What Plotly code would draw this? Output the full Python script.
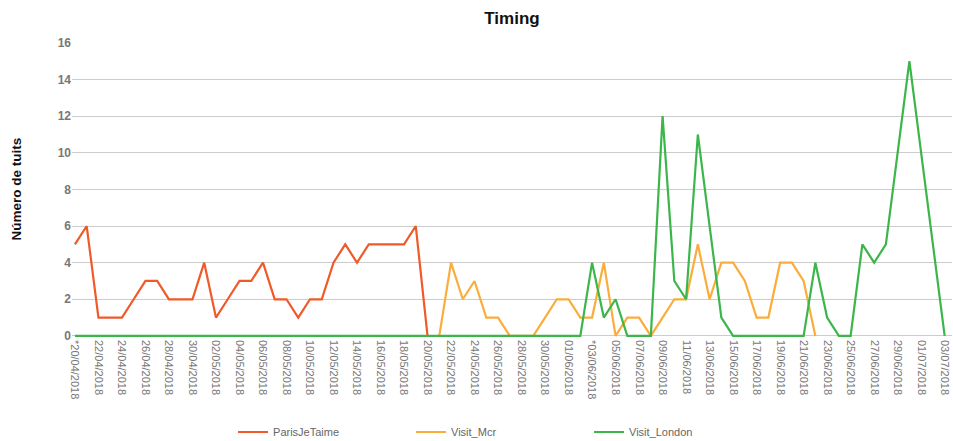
import pandas as pd
import plotly.graph_objects as go

# Categories: one per day, 20/04/2018 .. 03/07/2018
dates = list(pd.date_range("2018-04-20", "2018-07-03", freq="D"))

tick_labels = [
    "*20/04/2018", "22/04/2018", "24/04/2018", "26/04/2018", "28/04/2018",
    "30/04/2018", "02/05/2018", "04/05/2018", "06/05/2018", "08/05/2018",
    "10/05/2018", "12/05/2018", "14/05/2018", "16/05/2018", "18/05/2018",
    "20/05/2018", "22/05/2018", "24/05/2018", "26/05/2018", "28/05/2018",
    "30/05/2018", "01/06/2018", "*03/06/2018", "05/06/2018", "07/06/2018",
    "09/06/2018", "11/06/2018", "13/06/2018", "15/06/2018", "17/06/2018",
    "19/06/2018", "21/06/2018", "23/06/2018", "25/06/2018", "27/06/2018",
    "29/06/2018", "01/07/2018", "03/07/2018",
]
tick_dates = [
    "2018-04-20", "2018-04-22", "2018-04-24", "2018-04-26", "2018-04-28",
    "2018-04-30", "2018-05-02", "2018-05-04", "2018-05-06", "2018-05-08",
    "2018-05-10", "2018-05-12", "2018-05-14", "2018-05-16", "2018-05-18",
    "2018-05-20", "2018-05-22", "2018-05-24", "2018-05-26", "2018-05-28",
    "2018-05-30", "2018-06-01", "2018-06-03", "2018-06-05", "2018-06-07",
    "2018-06-09", "2018-06-11", "2018-06-13", "2018-06-15", "2018-06-17",
    "2018-06-19", "2018-06-21", "2018-06-23", "2018-06-25", "2018-06-27",
    "2018-06-29", "2018-07-01", "2018-07-03",
]
y_ticks = [0, 2, 4, 6, 8, 10, 12, 14, 16]

N = None
# ParisJeTaime: 20/04 .. 20/05
paris = [5, 6, 1, 1, 1, 2, 3, 3, 2, 2, 2, 4, 1, 2, 3, 3, 4, 2, 2, 1,
         2, 2, 4, 5, 4, 5, 5, 5, 5, 6, 0] + [N] * 44
# Visit_Mcr: 21/05 .. 22/06
mcr = [N] * 31 + [0, 4, 2, 3, 1, 1, 0, 0, 0, 1, 2, 2, 1, 1, 4, 0, 1, 1, 0, 1,
                  2, 2, 5, 2, 4, 4, 3, 1, 1, 4, 4, 3, 0] + [N] * 11
# Visit_London: whole period
london = [0] * 44 + [4, 1, 2, 0, 0, 0, 12, 3, 2, 11, 6, 1, 0, 0, 0, 0, 0, 0, 0,
                     4, 1, 0, 0, 5, 4, 5, 10, 15, 10, 5, 0]

series_names = ["ParisJeTaime", "Visit_Mcr", "Visit_London"]
series_values = [paris, mcr, london]
series_colors = ["#F05A28", "#FBAD3C", "#3CB64A"]

FONT = "Liberation Sans, Arial, sans-serif"

fig = go.Figure()
for name, vals, col in zip(series_names, series_values, series_colors):
    fig.add_trace(go.Scatter(
        x=dates, y=vals, name=name, mode="lines",
        line=dict(color=col, width=2.2), connectgaps=False,
    ))

fig.update_layout(
    width=953, height=441,
    margin=dict(l=72, r=1, t=42, b=104, autoexpand=False),
    paper_bgcolor="white", plot_bgcolor="white",
    font=dict(family=FONT, color="#666666"),
    title=dict(text="<b>Timing</b>", x=0.5, xref="paper", xanchor="center",
               y=1 - 18 / 441, yref="container", yanchor="middle",
               font=dict(family=FONT, size=17, color="#111111")),
    showlegend=True,
    legend=dict(orientation="h", xref="paper", x=0.183, xanchor="left",
                yref="container", y=1 - 432 / 441, yanchor="middle",
                entrywidth=133, entrywidthmode="pixels",
                font=dict(family=FONT, size=11, color="#666666"),
                bgcolor="rgba(0,0,0,0)"),
    xaxis=dict(
        range=["2018-04-19 18:00", "2018-07-03 15:00"],
        tickmode="array", tickvals=tick_dates, ticktext=tick_labels,
        tickangle=90, showgrid=False, zeroline=False, showline=False,
        ticks="", automargin=False, ticklabelstandoff=2,
        tickfont=dict(family=FONT, size=11, color="#777777"),
    ),
    yaxis=dict(
        range=[-0.06, 16.05], tickmode="array", tickvals=y_ticks,
        ticksuffix="  ",
        showgrid=True, gridcolor="#CCCCCC", gridwidth=1,
        zeroline=False, showline=False, ticks="", automargin=False,
        tickfont=dict(family=FONT, size=12, color="#777777", weight="bold"),
    ),
    annotations=[dict(
        text="<b>Número de tuits</b>", textangle=-90,
        xref="paper", x=(16 - 72) / 880, xanchor="center",
        yref="paper", y=0.5, yanchor="middle", showarrow=False,
        font=dict(family=FONT, size=13.5, color="#111111"),
    )],
)

fig.write_html(
    "out.html",
    config={"displayModeBar": False},
    post_script="document.body.style.margin='0';document.body.style.padding='0';",
)
